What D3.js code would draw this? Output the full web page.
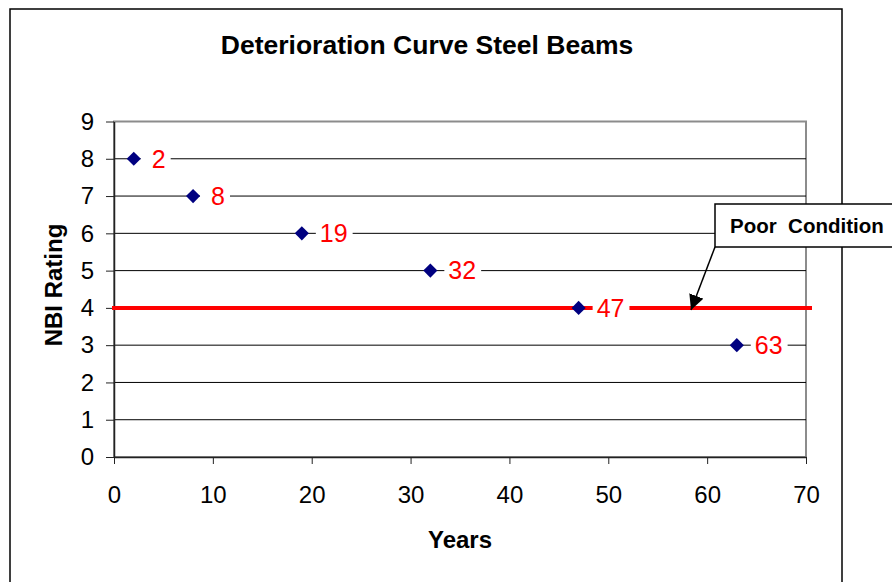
<!DOCTYPE html>
<html>
<head>
<meta charset="utf-8">
<script src="https://cdn.jsdelivr.net/npm/d3@7"></script>
<style>
  html, body { margin: 0; padding: 0; background: #fff; }
  svg { display: block; font-family: "Liberation Sans", Arial, Helvetica, sans-serif; }
</style>
</head>
<body>
<script>
// Years in service at which steel beams reach each NBI rating
const years = [2, 8, 19, 32, 47, 63];
const ratings = [8, 7, 6, 5, 4, 3];
const xTicks = [0, 10, 20, 30, 40, 50, 60, 70];
const yTicks = [0, 1, 2, 3, 4, 5, 6, 7, 8, 9];
const poorRating = 4;
const titleText = "Deterioration Curve Steel Beams";
const xTitle = "Years";
const yTitle = "NBI Rating";
const calloutText = "Poor  Condition";

const W = 892, H = 582;
const plot = { left: 114, top: 121.5, right: 806, bottom: 457 };

const svg = d3.select("body").append("svg")
  .attr("width", W).attr("height", H);

svg.append("rect").attr("width", W).attr("height", H).attr("fill", "#fff");

// chart frame
svg.append("rect")
  .attr("x", 10).attr("y", 9).attr("width", 832).attr("height", 600)
  .attr("fill", "none").attr("stroke", "#000").attr("stroke-width", 1.5);

const x = d3.scaleLinear().domain([0, 70]).range([plot.left, plot.right]);
const y = d3.scaleLinear().domain([0, 9]).range([plot.bottom, plot.top]);

// plot area border (top and right in grey)
svg.append("rect")
  .attr("x", plot.left).attr("y", plot.top)
  .attr("width", plot.right - plot.left).attr("height", plot.bottom - plot.top)
  .attr("fill", "none").attr("stroke", "#8c8c8c").attr("stroke-width", 2);

// horizontal gridlines
svg.append("g").selectAll("line")
  .data(yTicks.filter(v => v > 0 && v < 9))
  .join("line")
  .attr("x1", plot.left).attr("x2", plot.right)
  .attr("y1", d => y(d)).attr("y2", d => y(d))
  .attr("stroke", "#000").attr("stroke-width", 1);

// axes
const yAxis = svg.append("g")
  .attr("transform", `translate(${plot.left},0)`)
  .call(d3.axisLeft(y).tickValues(yTicks).tickFormat(d3.format("d"))
    .tickSize(8).tickSizeOuter(0).tickPadding(12));
const xAxis = svg.append("g")
  .attr("transform", `translate(0,${plot.bottom})`)
  .call(d3.axisBottom(x).tickValues(xTicks).tickFormat(d3.format("d"))
    .tickSize(7).tickSizeOuter(0).tickPadding(22));

[yAxis, xAxis].forEach(g => {
  g.select(".domain").attr("stroke", "#222").attr("stroke-width", 1.5);
  g.selectAll(".tick line").attr("stroke", "#222").attr("stroke-width", 1);
  g.selectAll(".tick text")
    .attr("fill", "#000")
    .style("font-size", "24px")
    .style("font-family", "'Liberation Sans', Arial, sans-serif");
});

// poor-condition threshold
svg.append("line")
  .attr("x1", x(0) - 2).attr("x2", x(70) + 6)
  .attr("y1", y(poorRating)).attr("y2", y(poorRating))
  .attr("stroke", "#ff0000").attr("stroke-width", 4);

const points = years.map((v, i) => ({ year: v, rating: ratings[i] }));

// data labels with white background boxes
const labels = svg.append("g").selectAll("g")
  .data(points)
  .join("g");

labels.each(function (d) {
  const g = d3.select(this);
  const cx = x(d.year), cy = y(d.rating);
  const rect = g.append("rect").attr("fill", "#fff");
  const t = g.append("text")
    .attr("x", cx + 18).attr("y", cy).attr("dy", "0.35em")
    .attr("fill", "#ff0000")
    .style("font-size", "25px")
    .text(d.year);
  const w = t.node().getComputedTextLength();
  const right = cx + 18 + w + 5;
  const left = Math.min(cx + 18 - 4, right - 30);
  rect.attr("x", left).attr("y", cy - 12).attr("width", right - left).attr("height", 24);
});

// markers
svg.append("g").selectAll("path")
  .data(points)
  .join("path")
  .attr("d", d3.symbol(d3.symbolSquare, 100))
  .attr("transform", d => `translate(${x(d.year)},${y(d.rating)}) rotate(45)`)
  .attr("fill", "#000080");

// title and axis titles
svg.append("text")
  .attr("x", 427).attr("y", 54)
  .attr("text-anchor", "middle")
  .style("font-size", "26.5px").style("font-weight", "bold")
  .text(titleText);

svg.append("text")
  .attr("x", 460).attr("y", 548)
  .attr("text-anchor", "middle")
  .style("font-size", "24px").style("font-weight", "bold")
  .text(xTitle);

svg.append("text")
  .attr("transform", "translate(62,285) rotate(-90)")
  .attr("text-anchor", "middle")
  .style("font-size", "24px").style("font-weight", "bold")
  .text(yTitle);

// callout pointing at the threshold line
const box = { x: 715, y: 204, w: 200, h: 43 };
const tip = { x: 691, y: 310 };
svg.append("defs").append("marker")
  .attr("id", "arrowhead")
  .attr("viewBox", "0 0 10 10")
  .attr("refX", 10).attr("refY", 5)
  .attr("markerWidth", 15).attr("markerHeight", 15)
  .attr("markerUnits", "userSpaceOnUse")
  .attr("orient", "auto")
  .append("path").attr("d", "M0,0 L10,5 L0,10 Z").attr("fill", "#000");

svg.append("line")
  .attr("x1", box.x).attr("y1", box.y + box.h)
  .attr("x2", tip.x).attr("y2", tip.y)
  .attr("stroke", "#000").attr("stroke-width", 1.5)
  .attr("marker-end", "url(#arrowhead)");

svg.append("rect")
  .attr("x", box.x).attr("y", box.y).attr("width", box.w).attr("height", box.h)
  .attr("fill", "#fff").attr("stroke", "#000").attr("stroke-width", 1.5);

svg.append("text")
  .attr("x", 730).attr("y", 233)
  .style("font-size", "20.5px").style("font-weight", "bold")
  .style("white-space", "pre")
  .attr("xml:space", "preserve")
  .text(calloutText);
</script>
</body>
</html>
